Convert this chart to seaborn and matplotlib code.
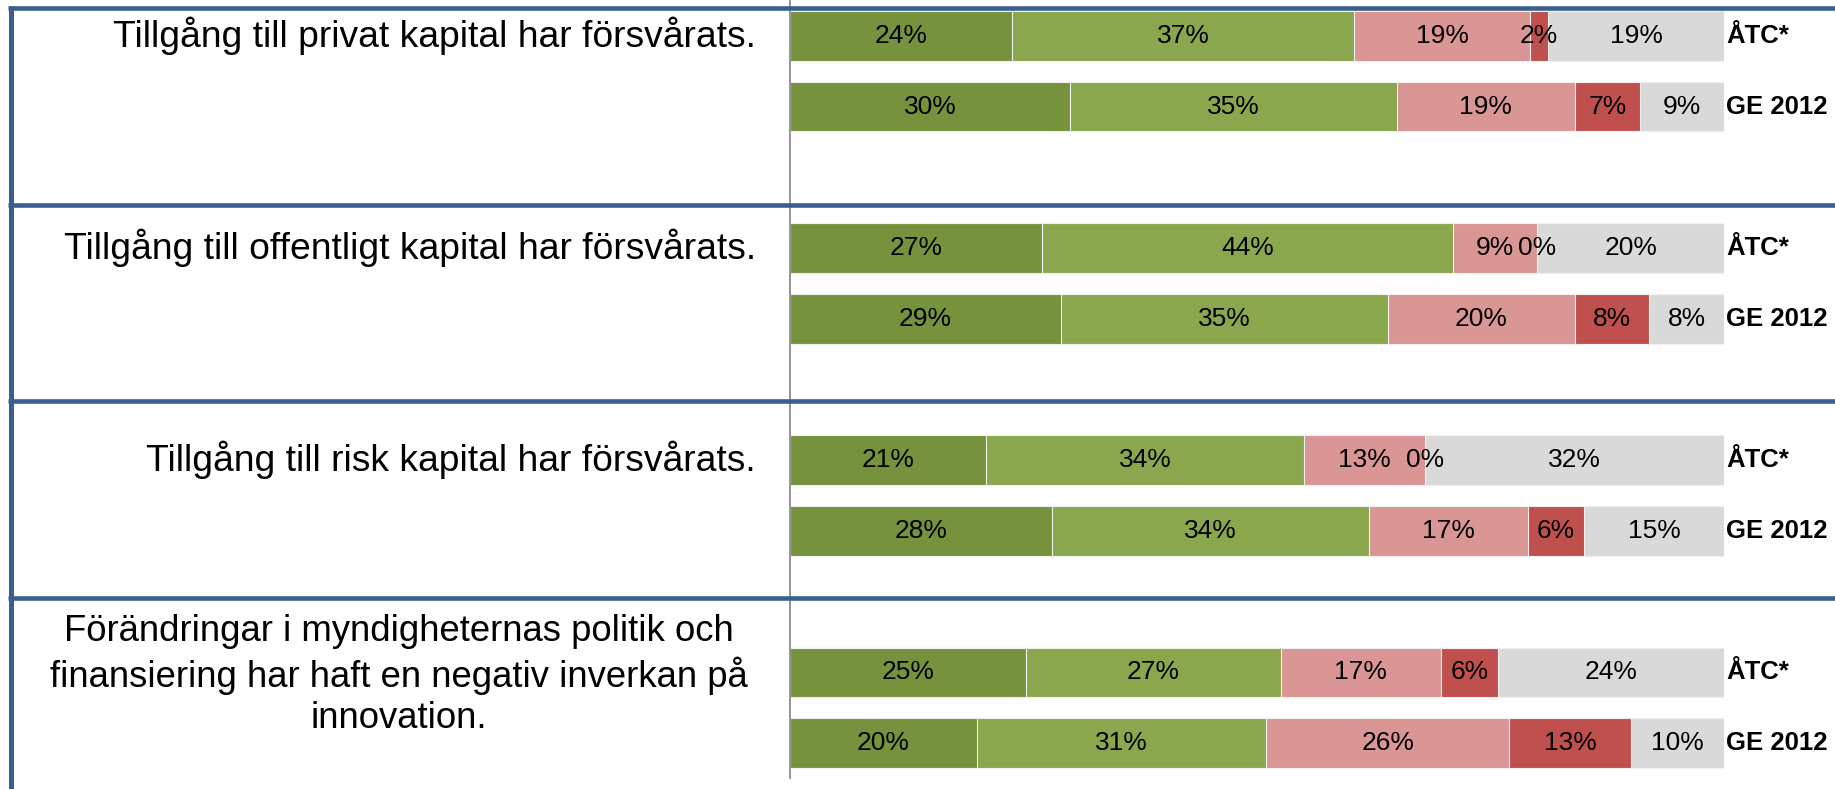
import matplotlib
matplotlib.use("Agg")
import matplotlib.pyplot as plt
import matplotlib.transforms as mtransforms
from matplotlib.lines import Line2D
import numpy as np
import pandas as pd
import seaborn as sns

# ---------------- data ----------------
questions = [
    "Tillgång till privat kapital har försvårats.",
    "Tillgång till offentligt kapital har försvårats.",
    "Tillgång till risk kapital har försvårats.",
    "Förändringar i myndigheternas politik och\nfinansiering har haft en negativ inverkan på\ninnovation.",
]
groups = ["ÅTC*", "GE 2012"]

# segment values (%) per bar, left to right: dark green, light green, light red, dark red, grey
q1_atc = [24, 37, 19, 2, 19]
q1_ge = [30, 35, 19, 7, 9]
q2_atc = [27, 44, 9, 0, 20]
q2_ge = [29, 35, 20, 8, 8]
q3_atc = [21, 34, 13, 0, 32]
q3_ge = [28, 34, 17, 6, 15]
q4_atc = [25, 27, 17, 6, 24]
q4_ge = [20, 31, 26, 13, 10]

bars = {
    "q1_atc": q1_atc, "q1_ge": q1_ge,
    "q2_atc": q2_atc, "q2_ge": q2_ge,
    "q3_atc": q3_atc, "q3_ge": q3_ge,
    "q4_atc": q4_atc, "q4_ge": q4_ge,
}
# row order including empty gap slots between question groups
order = ["q1_atc", "q1_ge", "gap1", "q2_atc", "q2_ge", "gap2",
         "q3_atc", "q3_ge", "gap3", "q4_atc", "q4_ge"]

seg_colors = ["#76923C", "#8BA74E", "#DA9694", "#C0504D", "#D9D9D9"]

# ---------------- build long table ----------------
rows = []
for name, vals in bars.items():
    total = sum(vals)
    cum = 0.0
    for k, v in enumerate(vals):
        share = v / total * 100
        rows.append(dict(row=name, seg=k, value=v, start=cum, end=cum + share))
        cum += share
df = pd.DataFrame(rows)

# ---------------- figure ----------------
W, H = 1835, 789
sns.set_style("white")
plt.rcParams["font.family"] = ["Liberation Sans", "DejaVu Sans"]

fig = plt.figure(figsize=(W / 100, H / 100), dpi=100)
ax_left, ax_right = 790, 1724
ax_top, ax_bot = 0.6, 778.4
ax = fig.add_axes([ax_left / W, (H - ax_bot) / H,
                   (ax_right - ax_left) / W, (ax_bot - ax_top) / H])

# draw cumulative layers from the back (full length) to the front
for k in reversed(range(5)):
    sub = df[df.seg == k]
    sns.barplot(data=sub, x="end", y="row", order=order, orient="h",
                color=seg_colors[k], saturation=1, width=0.7, errorbar=None,
                edgecolor="#F0F0F0", linewidth=0.8, ax=ax)

ypos = {name: i for i, name in enumerate(order)}

# value labels
for _, r in df.iterrows():
    ax.text((r.start + r.end) / 2, ypos[r.row], f"{r.value}%",
            ha="center", va="center", fontsize=19, color="black")

# series labels on the right
for name in bars:
    grp = groups[0] if name.endswith("atc") else groups[1]
    ax.text(100.2, ypos[name], grp, ha="left", va="center",
            fontsize=18.5, fontweight="bold", color="black", clip_on=False)

ax.set_xlim(0, 100)
ax.set_ylim(len(order) - 0.5, -0.5)
ax.set_xlabel("")
ax.set_ylabel("")
ax.set_xticks([])
ax.set_yticks([])
for s in ["top", "right", "bottom"]:
    ax.spines[s].set_visible(False)
ax.spines["left"].set_color("#8C8C8C")
ax.spines["left"].set_linewidth(1.3)

# question texts (x in figure fraction, y in data rows)
trans = mtransforms.blended_transform_factory(fig.transFigure, ax.transData)
q_rows = ["q1_atc", "q2_atc", "q3_atc", "q4_atc"]
for i, q in enumerate(questions):
    if "\n" in q:
        ax.text(399 / W, ypos[q_rows[i]] + 0.04, q, transform=trans, ha="center",
                va="center", multialignment="center", fontsize=26.3,
                linespacing=1.23, color="black")
    else:
        ax.text(756 / W, ypos[q_rows[i]], q, transform=trans, ha="right",
                va="center", fontsize=26.8, color="black")

# table borders
blue = "#3A5F8E"
for yp in [8, 204.5, 401, 597.5]:
    fig.add_artist(Line2D([8 / W, 1.0], [1 - yp / H, 1 - yp / H],
                          transform=fig.transFigure, color=blue, lw=3.3,
                          solid_capstyle="butt", zorder=5))
fig.add_artist(Line2D([10.5 / W, 10.5 / W], [1 - 6 / H, 0.0],
                      transform=fig.transFigure, color=blue, lw=3.6,
                      solid_capstyle="butt", zorder=5))

fig.savefig("out.png", dpi=100, facecolor="white")
